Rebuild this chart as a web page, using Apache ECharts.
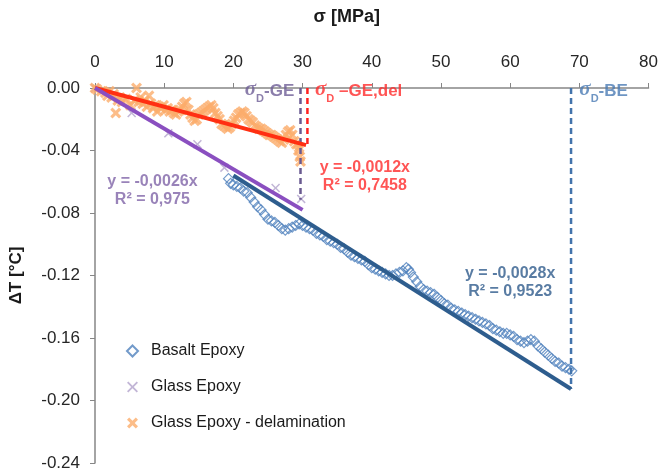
<!DOCTYPE html>
<html>
<head>
<meta charset="utf-8">
<title>ΔT vs σ</title>
<script src="https://cdn.jsdelivr.net/npm/echarts@6/dist/echarts.min.js"></script>
<style>
  html, body { margin: 0; padding: 0; background: #fff; }
  #chart { width: 661px; height: 473px; }
</style>
</head>
<body>
<div id="chart"></div>
<script>
// axis ranges (MPa / °C)
const xMin = 0, xMax = 80, xStep = 10;
const yMin = -0.24, yMax = 0, yStep = 0.04;

// measured points [sigma MPa, dT °C]
const basaltEpoxy = [
  [19.3,-0.058],[19.6,-0.061],[20.0,-0.062],[20.5,-0.063],[21.0,-0.064],[21.5,-0.066],
  [22.0,-0.067],[22.5,-0.070],[23.0,-0.073],[23.5,-0.076],[24.0,-0.078],[24.5,-0.081],
  [25.0,-0.084],[25.5,-0.085],[26.0,-0.086],[26.5,-0.088],[27.0,-0.090],[27.5,-0.091],
  [28.0,-0.090],[28.5,-0.089],[29.0,-0.088],[29.5,-0.087],[30.0,-0.088],[30.5,-0.089],
  [31.0,-0.090],[31.5,-0.091],[32.0,-0.093],[32.5,-0.094],[33.0,-0.095],[33.5,-0.097],
  [34.0,-0.098],[34.5,-0.099],[35.0,-0.100],[35.5,-0.102],[36.0,-0.103],[36.5,-0.105],
  [37.0,-0.107],[37.5,-0.108],[38.0,-0.109],[38.5,-0.110],[39.0,-0.111],[39.5,-0.113],
  [40.0,-0.115],[40.5,-0.116],[41.0,-0.117],[41.5,-0.118],[42.0,-0.119],[42.5,-0.120],
  [43.0,-0.120],[43.5,-0.119],[44.0,-0.118],[44.5,-0.117],[45.0,-0.115],[45.3,-0.116],
  [45.6,-0.118],[46.0,-0.121],[46.5,-0.124],[47.0,-0.127],[47.5,-0.129],[48.0,-0.130],
  [48.5,-0.131],[49.0,-0.132],[49.5,-0.134],[50.0,-0.136],[50.5,-0.138],[51.0,-0.139],
  [51.5,-0.141],[52.0,-0.142],[52.5,-0.143],[53.0,-0.144],[53.5,-0.145],[54.0,-0.146],
  [54.5,-0.147],[55.0,-0.148],[55.5,-0.149],[56.0,-0.150],[56.5,-0.151],[57.0,-0.152],
  [57.5,-0.154],[58.0,-0.155],[58.5,-0.156],[59.0,-0.157],[59.5,-0.157],[60.0,-0.158],
  [60.5,-0.159],[61.0,-0.161],[61.5,-0.162],[62.0,-0.163],[62.5,-0.162],[63.0,-0.161],
  [63.5,-0.162],[64.0,-0.165],[64.5,-0.167],[65.0,-0.169],[65.5,-0.171],[66.0,-0.173],
  [66.5,-0.175],[67.0,-0.176],[67.5,-0.178],[68.0,-0.179],[68.5,-0.180],[68.9,-0.181]
];

const glassEpoxy = [
  [0,0],[5.3,-0.016],[10.6,-0.029],[14.8,-0.036],[18.7,-0.051],[26.1,-0.064],[29.8,-0.071]
];

const glassEpoxyDel = [
  [0,0],[0.3,-0.001],[0.6,0.001],[0.9,-0.002],[1.2,0.001],[1.5,-0.003],[1.8,-0.005],
  [2.1,-0.002],[2.4,-0.006],[2.7,-0.004],[3.0,-0.016],[3.3,-0.008],[3.6,-0.006],[3.9,-0.009],
  [4.2,0.002],[4.5,-0.007],[4.8,0.001],[5.1,-0.011],[5.4,0.001],[5.7,-0.008],[6.0,0.000],
  [6.3,-0.009],[6.6,-0.006],[6.9,-0.010],[7.2,-0.008],[7.5,-0.012],[7.8,-0.005],[8.1,-0.010],
  [8.4,-0.013],[8.7,-0.011],[9.0,-0.015],[9.3,-0.012],[9.6,-0.013],[9.9,-0.011],[10.2,-0.014],
  [10.5,-0.013],[10.8,-0.015],[11.1,-0.014],[11.4,-0.016],[11.7,-0.017],[12.0,-0.015],
  [12.3,-0.014],[12.6,-0.012],[12.9,-0.010],[13.2,-0.009],[13.5,-0.014],[13.8,-0.017],
  [14.1,-0.019],[14.4,-0.021],[14.7,-0.020],[15.0,-0.017],[15.3,-0.016],[15.6,-0.015],
  [15.9,-0.014],[16.2,-0.013],[16.5,-0.012],[16.8,-0.011],[17.1,-0.013],[17.4,-0.016],
  [17.7,-0.018],[18.0,-0.020],[18.3,-0.023],[18.6,-0.024],[18.9,-0.025],[19.2,-0.026],
  [19.5,-0.025],[19.8,-0.023],[20.1,-0.021],[20.4,-0.019],[20.7,-0.017],[21.0,-0.016],
  [21.3,-0.015],[21.6,-0.016],[21.9,-0.018],[22.2,-0.020],[22.5,-0.021],[22.8,-0.022],
  [23.1,-0.024],[23.4,-0.025],[23.7,-0.026],[24.0,-0.026],[24.3,-0.027],[24.6,-0.028],
  [24.9,-0.029],[25.2,-0.030],[25.5,-0.030],[25.8,-0.031],[26.1,-0.032],[26.4,-0.033],
  [26.7,-0.034],[27.0,-0.035],[27.3,-0.033],[27.6,-0.030],[27.9,-0.028],[28.2,-0.027],
  [28.5,-0.030],[28.8,-0.034],[29.1,-0.036],[29.4,-0.040],[29.5,-0.038],[29.6,-0.044],
  [29.7,-0.047]
];

// linear fits (end points)
const fitBasalt = [[20.0,-0.056],[68.8,-0.1926]];
const fitGlass = [[0,0],[30.0,-0.078]];
const fitGlassDel = [[0,0],[30.5,-0.0366]];

// failure stress markers (vertical dashed lines)
const limitGE = [[29.7,0],[29.7,-0.0715]];
const limitGEdel = [[30.7,0],[30.7,-0.0368]];
const limitBE = [[68.8,0],[68.8,-0.1926]];

const fontSans = 'Liberation Sans, Arial, sans-serif';
const crossThin = 'path://M0,1.2L1.2,0L5,3.8L8.8,0L10,1.2L6.2,5L10,8.8L8.8,10L5,6.2L1.2,10L0,8.8L3.8,5Z';
const crossBold = 'path://M0,2L2,0L5,3L8,0L10,2L7,5L10,8L8,10L5,7L2,10L0,8L3,5Z';

// sigma with subscript D: main glyphs lifted a little so D sits lower
function sigmaRich(color) {
  return {
    s: { fontFamily: 'Liberation Serif, serif', fontStyle: 'italic', fontSize: 21, color: color,
      verticalAlign: 'bottom', padding: [0, 0, 4, 0] },
    d: { fontFamily: fontSans, fontSize: 11, color: color, verticalAlign: 'bottom' },
    t: { fontFamily: fontSans, fontSize: 17, fontWeight: 'bold', color: color,
      verticalAlign: 'bottom', padding: [0, 0, 4, 0] }
  };
}

const chart = echarts.init(document.getElementById('chart'), null, { renderer: 'canvas' });

const dashLine = (data, color) => ({
  type: 'line', data: data, symbol: 'none', silent: true, z: 4,
  lineStyle: { color: color, width: 2.5, type: [6, 4] }
});
const fitLine = (data, color) => ({
  type: 'line', data: data, symbol: 'none', silent: true, z: 5,
  lineStyle: { color: color, width: 4 }
});

const option = {
  animation: false,
  backgroundColor: '#fff',
  grid: { left: 95, right: 11, top: 88, bottom: 10 },
  xAxis: {
    type: 'value', position: 'top', min: xMin, max: xMax, interval: xStep,
    name: 'σ [MPa]', nameLocation: 'middle', nameGap: 62,
    nameTextStyle: { fontFamily: fontSans, fontSize: 18, fontWeight: 'bold', color: '#1a1a1a',
      padding: [0, 50, 0, 0] },
    axisLine: { onZero: false, lineStyle: { color: '#868686', width: 1.5 } },
    axisTick: { show: true, length: 5, lineStyle: { color: '#868686' } },
    axisLabel: { fontFamily: fontSans, fontSize: 17, color: '#262626', margin: 17 },
    splitLine: { show: false }
  },
  yAxis: {
    type: 'value', min: yMin, max: yMax, interval: yStep,
    name: 'ΔT [°C]', nameLocation: 'middle', nameGap: 70, nameRotate: 90,
    nameTextStyle: { fontFamily: fontSans, fontSize: 17, fontWeight: 'bold', color: '#1a1a1a' },
    axisLine: { show: true, onZero: false, lineStyle: { color: '#868686', width: 1.5 } },
    axisTick: { show: true, length: 5, lineStyle: { color: '#868686' } },
    axisLabel: { fontFamily: fontSans, fontSize: 17, color: '#262626', margin: 15,
      formatter: v => v.toFixed(2) },
    splitLine: { show: false }
  },
  legend: {
    orient: 'vertical', left: 121, top: 338, itemWidth: 11, itemHeight: 11, itemGap: 20,
    textStyle: { fontFamily: fontSans, fontSize: 16, color: '#1a1a1a', padding: [0, 0, 0, 8] },
    data: ['Basalt Epoxy', 'Glass Epoxy', 'Glass Epoxy - delamination'],
    selectedMode: false
  },
  series: [
    {
      name: 'Basalt Epoxy', type: 'scatter', data: basaltEpoxy, symbol: 'diamond', symbolSize: 10,
      itemStyle: { color: 'rgba(255,255,255,0)', borderColor: '#4f81bd', borderWidth: 1.2 },
      z: 2
    },
    {
      name: 'Glass Epoxy', type: 'scatter', data: glassEpoxy, symbol: crossThin, symbolSize: 9,
      itemStyle: { color: '#b3a4cc' }, z: 2
    },
    {
      name: 'Glass Epoxy - delamination', type: 'scatter', data: glassEpoxyDel, symbol: crossBold,
      symbolSize: 11, itemStyle: { color: '#fbad6b' }, z: 3
    },
    fitLine(fitGlassDel, '#ff2f12'),
    fitLine(fitGlass, '#8a4fc0'),
    fitLine(fitBasalt, '#2e5d8e'),
    dashLine(limitGE, '#6a5a90'),
    dashLine(limitGEdel, '#ff2020'),
    dashLine(limitBE, '#4374ac'),
    {
      type: 'scatter', symbolSize: 0, silent: true, z: 10,
      label: { show: true, position: [0, 0], fontFamily: fontSans, fontWeight: 'bold', fontSize: 16, lineHeight: 18 },
      data: [
        { value: [28.8, -0.0045], label: { align: 'right', verticalAlign: 'middle',
          formatter: '{s|σ}{d|D}{t|-GE}', rich: sigmaRich('#6e5e96') } },
        { value: [31.8, -0.0045], label: { align: 'left', verticalAlign: 'middle',
          formatter: '{s|σ}{d|D}{t| –GE,del}', rich: sigmaRich('#ff2a2a') } },
        { value: [70.0, -0.0045], label: { align: 'left', verticalAlign: 'middle',
          formatter: '{s|σ}{d|D}{t|-BE}', rich: sigmaRich('#4a7ab4') } },
        { value: [8.3, -0.0655], label: { align: 'center', verticalAlign: 'middle', color: '#8064a8',
          formatter: 'y = -0,0026x\nR² = 0,975' } },
        { value: [39.0, -0.0565], label: { align: 'center', verticalAlign: 'middle', color: '#ff2a2a',
          formatter: 'y = -0,0012x\nR² = 0,7458' } },
        { value: [60.0, -0.1245], label: { align: 'center', verticalAlign: 'middle', color: '#2f5b8c',
          formatter: 'y = -0,0028x\nR² = 0,9523' } }
      ]
    }
  ]
};

chart.setOption(option);
</script>
</body>
</html>
